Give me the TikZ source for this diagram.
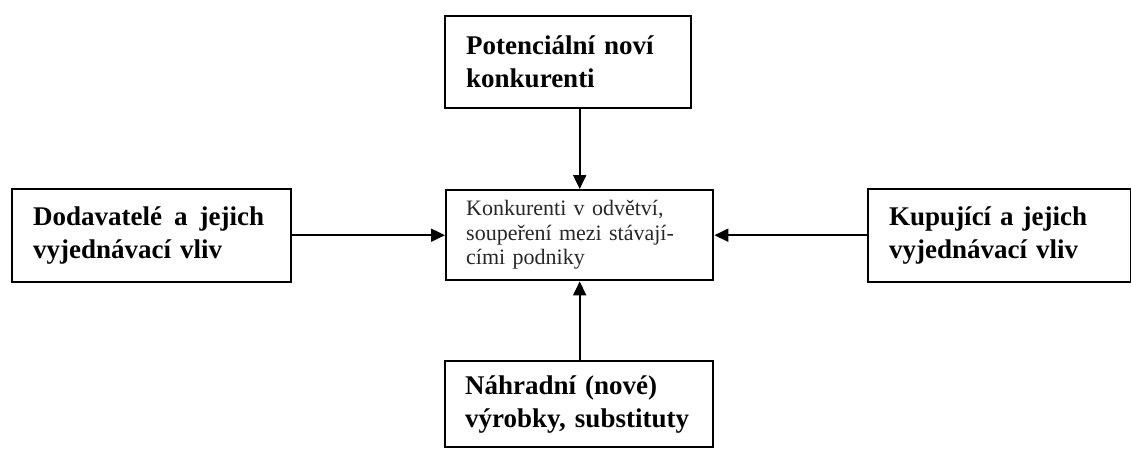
\documentclass[tikz,border=0pt]{standalone}
\usepackage{fontspec}
\setmainfont{Liberation Serif}
\usetikzlibrary{arrows.meta}
\begin{document}
\begin{tikzpicture}[x=1pt,y=-1pt]
\tikzset{
  box/.style={draw=black, line width=2.4pt, anchor=north west, inner xsep=21pt, inner ysep=0pt,
    align=left, font=\bfseries\fontsize{27}{33}\selectfont},
  midbox/.style={box, inner xsep=20pt, font=\fontsize{22}{24.5}\selectfont, text=black!85},
  conn/.style={line width=2pt, -{Triangle[length=14pt,width=13pt]}}
}
\useasboundingbox (0,0) rectangle (1131,448);
\node[box, minimum width=246pt, minimum height=92pt, text width=204pt] (top) at (444,15)
  {Potenciální noví\\konkurenti};
\node[box, minimum width=279pt, minimum height=93pt, text width=237pt] (left) at (11,188)
  {Dodavatelé\hspace{12pt}a\hspace{12pt}jejich\\vyjednávací vliv};
\node[midbox, minimum width=267pt, minimum height=90pt, text width=227pt] (mid) at (445,189)
  {Konkurenti v odvětví,\\soupeření mezi stávají-\\cími podniky};
\node[box, minimum width=263pt, minimum height=93pt, text width=221pt] (right) at (867,188)
  {Kupující a jejich\\vyjednávací vliv};
\node[box, minimum width=268pt, minimum height=86pt, text width=228pt, inner xsep=20pt] (bot) at (444,360)
  {Náhradní (nové)\\výrobky, substituty};
\draw[conn] (top.south -| mid.north) -- (mid.north);
\draw[conn] (bot.north -| mid.south) -- (mid.south);
\draw[conn] (left.east |- mid.west) -- (mid.west);
\draw[conn] (right.west |- mid.east) -- (mid.east);
\end{tikzpicture}
\end{document}
